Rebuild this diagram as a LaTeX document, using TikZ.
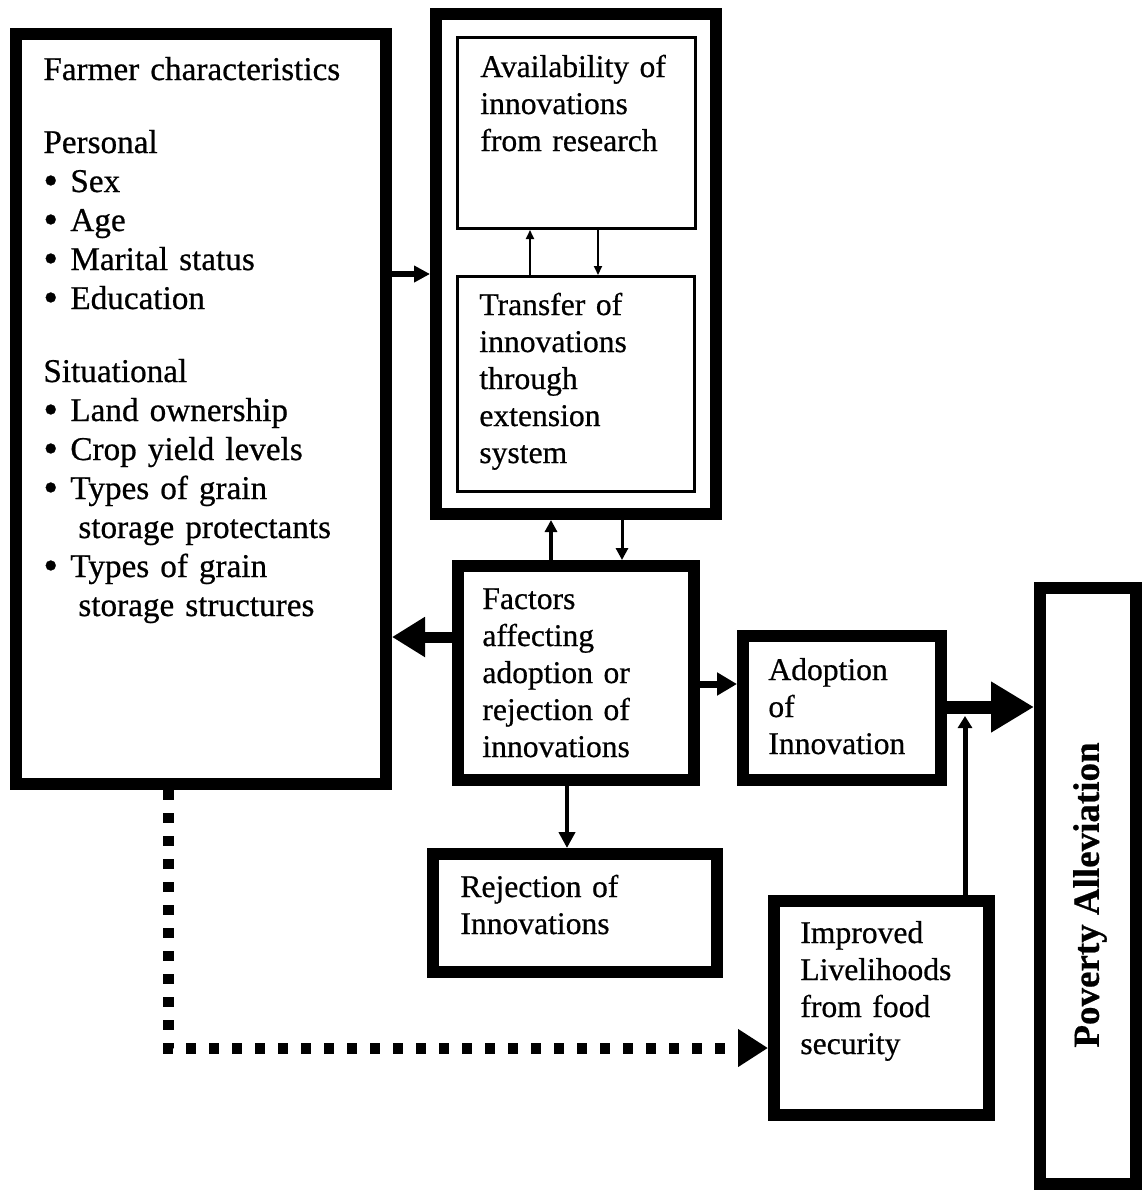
\documentclass[tikz,border=0pt]{standalone}
\usepackage{fontspec}
\setmainfont{Liberation Serif}[FakeBold=0.6]
\usetikzlibrary{arrows.meta}
\newlength\pxu
\setlength\pxu{0.5pt}
\newcommand\itemdot{\makebox[27\pxu][l]{\raisebox{-1.2pt}{\fontsize{21}{21}\selectfont\textbullet}}}
\begin{document}
\begin{tikzpicture}[
    x=0.5pt, y=-0.5pt,
    heavybox/.style={draw,line width=12\pxu,inner sep=0pt},
    lightbox/.style={draw,line width=3\pxu,inner sep=0pt},
    boxtext/.style={anchor=base west,inner sep=0pt,align=left,text width=300\pxu,
        font=\fontsize{15.8}{18.5}\selectfont},
    listtext/.style={boxtext,font=\fontsize{16.6}{19.5}\selectfont},
    % line width in px, tip length and width in pt
    arr/.style n args={3}{line width=#1\pxu,-{Triangle[length=#2pt,width=#3pt]}},
    dotline/.style={line width=11\pxu,dash pattern=on 10\pxu off 13\pxu,
        -{Triangle[length=15pt,width=18pt]}}
]
    \useasboundingbox (0,0) rectangle (1142,1190);

    % Farmer characteristics
    \node[heavybox,minimum width=370\pxu,minimum height=750\pxu] (farmer) at (201,409) {};
    \node[listtext] (farmerlist) at (43,80) {Farmer characteristics\\[34\pxu]
        Personal\\
        \itemdot Sex\\
        \itemdot Age\\
        \itemdot Marital status\\
        \itemdot Education\\[34\pxu]
        Situational\\
        \itemdot Land ownership\\
        \itemdot Crop yield levels\\
        \itemdot Types of grain\\
        \hspace*{35\pxu}storage protectants\\
        \itemdot Types of grain\\
        \hspace*{35\pxu}storage structures};

    % Research and extension frame
    \node[heavybox,minimum width=280\pxu,minimum height=500\pxu] (frame) at (576,264) {};
    \node[lightbox,minimum width=238\pxu,minimum height=191\pxu] (avail) at (576.5,133) {};
    \node[boxtext] (availtxt) at (480,77) {Availability of\\innovations\\from research};
    \node[lightbox,minimum width=237\pxu,minimum height=215\pxu] (transfer) at (576,384) {};
    \node[boxtext] (transfertxt) at (479,315) {Transfer of\\innovations\\through\\extension\\system};

    % Middle column
    \node[heavybox,minimum width=236\pxu,minimum height=214\pxu] (factors) at (576,673) {};
    \node[boxtext] (factorstxt) at (482,609) {Factors\\affecting\\adoption or\\rejection of\\innovations};
    \node[heavybox,minimum width=284\pxu,minimum height=118\pxu] (rejection) at (575,913) {};
    \node[boxtext] (rejectiontxt) at (460,897) {Rejection of\\Innovations};

    % Right side
    \node[heavybox,minimum width=198\pxu,minimum height=144\pxu] (adoption) at (842,708) {};
    \node[boxtext] (adoptiontxt) at (768,680) {Adoption\\of\\Innovation};
    \node[heavybox,minimum width=215\pxu,minimum height=214\pxu] (improved) at (881.5,1008) {};
    \node[boxtext] (improvedtxt) at (800,943) {Improved\\Livelihoods\\from food\\security};
    \node[heavybox,minimum width=96\pxu,minimum height=596\pxu] (poverty) at (1088,886) {};
    \node[rotate=90,inner sep=0pt,font=\bfseries\fontsize{18.5}{22}\selectfont] (povertytxt)
        at (1090,895) {Poverty Alleviation};

    % Connectors
    \draw[arr={6}{8}{8}] (farmer.east |- 0,274) -- (frame.west |- 0,274);
    \draw[arr={2}{4.5}{4}] (transfer.north -| 530,0) -- (avail.south -| 530,0);
    \draw[arr={2}{4.5}{4}] (avail.south -| 598,0) -- (transfer.north -| 598,0);
    \draw[arr={4}{6}{6}] (factors.north -| 551,0) -- (frame.south -| 551,0);
    \draw[arr={3}{6}{6}] (frame.south -| 622,0) -- (factors.north -| 622,0);
    \draw[arr={11}{16.5}{19}] (factors.west |- 0,637) -- (farmer.east |- 0,637);
    \draw[arr={7}{10}{11}] (factors.east |- 0,684) -- (adoption.west |- 0,684);
    \draw[arr={4}{8}{8}] (factors.south -| 567,0) -- (rejection.north -| 567,0);
    \draw[arr={13}{21.5}{24}] (adoption.east |- 0,707) -- (poverty.west |- 0,707);
    \coordinate (shaft) at (965,716);
    \draw[arr={5}{6}{7}] (improved.north -| shaft) -- (shaft);
    \draw[dotline] (farmer.south -| 168,0) |- (improved.west |- 0,1048);
\end{tikzpicture}
\end{document}
